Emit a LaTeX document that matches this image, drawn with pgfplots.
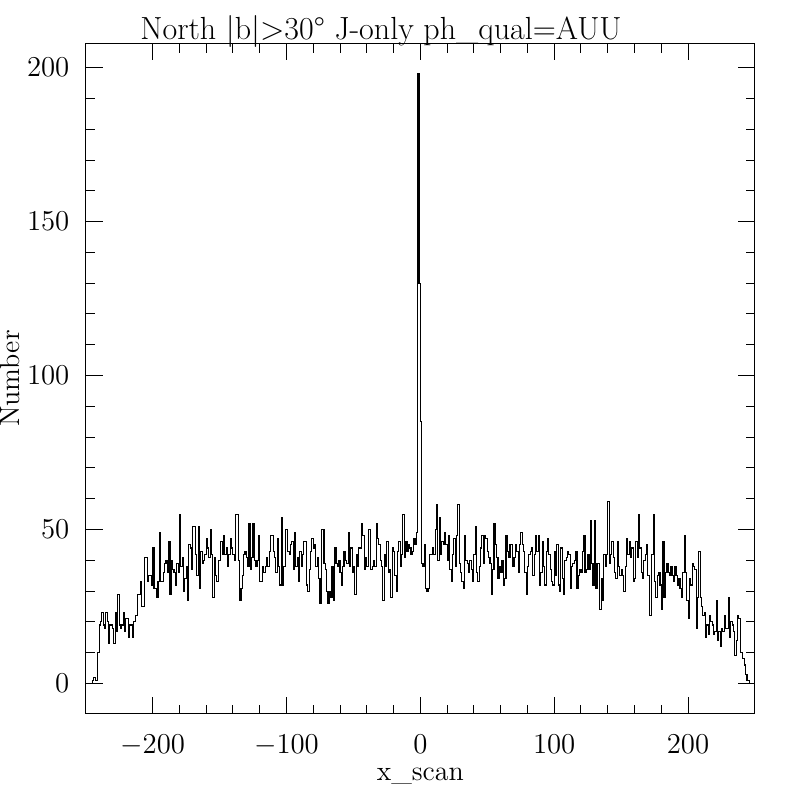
\documentclass[border=0pt]{standalone}
\usepackage{fontspec}
\usepackage{pgfplots}
\pgfplotsset{compat=1.18}
\begin{document}
\begin{tikzpicture}
\begin{axis}[
  name=ax, at={(0,0)}, anchor=south west,
  width=334.65pt, height=335.35pt, scale only axis,
  xmin=-250, xmax=250, ymin=-9.9, ymax=207.9,
  xtick={-200,-100,0,100,200}, ytick={0,50,100,150,200},
  minor x tick num=4, minor y tick num=4,
  tick align=inside, xtick pos=both, ytick pos=both,
  xticklabel pos=lower, yticklabel pos=left,
  major tick length=8.5pt, minor tick length=4.6pt,
  every tick/.style={black, line width=0.5pt},
  axis line style={line width=0.5pt},
  tick label style={font=\fontsize{14}{16}\selectfont},
  yticklabel style={inner sep=0pt, xshift=-8pt},
  xticklabel style={inner sep=0pt, yshift=-10.5pt, anchor=north},
]
\addplot[const plot, black, line width=0.55pt] coordinates {
(-250,0)(-249,0)(-248,0)(-247,0)(-246,0)(-245,1)(-244,2)(-243,1)(-242,1)(-241,10)
(-240,19)(-239,20)(-238,23)(-237,19)(-236,18)(-235,23)(-234,20)(-233,13)(-232,19)(-231,19)
(-230,18)(-229,13)(-228,23)(-227,17)(-226,29)(-225,19)(-224,18)(-223,19)(-222,23)(-221,17)
(-220,21)(-219,21)(-218,15)(-217,19)(-216,19)(-215,15)(-214,20)(-213,22)(-212,22)(-211,29)
(-210,29)(-209,33)(-208,25)(-207,25)(-206,41)(-205,41)(-204,33)(-203,35)(-202,35)(-201,32)
(-200,44)(-199,31)(-198,31)(-197,28)(-196,33)(-195,49)(-194,33)(-193,33)(-192,36)(-191,39)
(-190,40)(-189,36)(-188,46)(-187,29)(-186,40)(-185,37)(-184,36)(-183,32)(-182,39)(-181,36)
(-180,55)(-179,38)(-178,41)(-177,30)(-176,34)(-175,38)(-174,27)(-173,45)(-172,44)(-171,37)
(-170,51)(-169,51)(-168,42)(-167,35)(-166,51)(-165,31)(-164,43)(-163,39)(-162,40)(-161,42)
(-160,47)(-159,44)(-158,41)(-157,50)(-156,42)(-155,28)(-154,41)(-153,35)(-152,33)(-151,40)
(-150,40)(-149,46)(-148,42)(-147,48)(-146,42)(-145,44)(-144,38)(-143,42)(-142,47)(-141,44)
(-140,42)(-139,40)(-138,55)(-137,55)(-136,40)(-135,27)(-134,31)(-133,35)(-132,42)(-131,43)
(-130,41)(-129,38)(-128,52)(-127,37)(-126,41)(-125,52)(-124,40)(-123,38)
(-122,40)(-121,48)(-120,33)(-119,33)(-118,38)(-117,36)(-116,38)(-115,41)(-114,38)
(-113,43)(-112,48)(-111,48)(-110,43)(-109,41)(-108,36)(-107,47)(-106,38)(-105,32)(-104,54)
(-103,32)(-102,38)(-101,50)(-100,50)(-99,43)(-98,42)(-97,45)(-96,46)(-95,37)(-94,49)
(-93,38)(-92,41)(-91,33)(-90,43)(-89,38)(-88,42)(-87,46)(-86,46)(-85,32)(-84,30)
(-83,37)(-82,43)(-81,47)(-80,44)(-79,45)(-78,38)(-77,41)(-76,34)(-75,26)(-74,50)
(-73,50)(-72,39)(-71,37)(-70,30)(-69,26)(-68,30)(-67,28)(-66,38)(-65,27)(-64,44)
(-63,39)(-62,38)(-61,40)(-60,36)(-59,32)(-58,38)(-57,43)(-56,40)(-55,39)(-54,49)
(-53,38)(-52,44)(-51,36)(-50,38)(-49,29)(-48,42)(-47,38)(-46,44)(-45,44)(-44,52)
(-43,48)(-42,37)(-41,41)(-40,38)(-39,50)(-38,50)(-37,37)(-36,38)(-35,40)(-34,38)
(-33,52)(-32,47)(-31,45)(-30,40)(-29,38)(-28,27)(-27,42)(-26,38)(-25,46)(-24,36)
(-23,37)(-22,28)(-21,44)(-20,43)(-19,35)(-18,30)(-17,43)(-16,46)(-15,38)(-14,42)
(-13,55)(-12,41)(-11,46)(-10,43)(-9,45)(-8,44)(-7,42)(-6,43)(-5,47)(-4,45)
(-3,49)
(-2,198)(-1,130)(0,85)
(1,39)(2,38)(3,45)(4,31)(5,30)(6,31)(7,42)(8,42)(9,44)(10,42)
(11,50)(12,58)(13,40)(14,54)(15,42)(16,46)(17,45)(18,49)(19,45)
(20,40)(21,48)(22,37)(23,33)(24,42)(25,47)(26,38)(27,48)(28,58)
(29,39)(30,36)(31,33)(32,31)(33,48)(34,40)(35,39)(36,36)(37,40)
(38,37)(39,33)(40,42)(41,51)(42,36)(43,33)(44,38)(45,44)(46,48)(47,39)
(48,48)(49,47)(50,43)(51,41)(52,39)(53,29)(54,37)(55,52)(56,45)(57,41)
(58,34)(59,38)(60,36)(61,40)(62,32)(63,34)(64,48)(65,43)(66,41)(67,45)
(68,45)(69,38)(70,41)(71,45)(72,43)(73,36)(74,45)(75,49)(76,45)
(77,43)(78,36)(79,29)(80,38)(81,42)(82,43)(83,44)(84,35)(85,42)
(86,48)(87,43)(88,48)(89,32)(90,36)(91,46)(92,38)(93,32)(94,43)(95,47)
(96,42)(97,37)(98,33)(99,32)(100,43)(101,35)(102,45)(103,32)(104,30)
(105,44)(106,34)(107,29)(108,40)(109,41)(110,43)(111,42)(112,31)(113,38)
(114,39)(115,40)(116,43)(117,31)(118,35)(119,37)(120,36)(121,43)(122,48)
(123,36)(124,37)
(125,42)(126,37)(127,53)(128,39)(129,32)(130,53)(131,31)(132,39)(133,39)(134,24)
(135,34)(136,27)(137,42)(138,38)(139,42)(140,59)(141,39)(142,42)
(143,46)(144,41)(145,36)(146,34)(147,46)(148,38)(149,35)(150,37)(151,35)
(152,30)(153,38)(154,47)(155,42)(156,46)(157,41)(158,44)(159,33)
(160,34)(161,46)(162,41)(163,55)(164,44)(165,36)(166,34)
(167,40)(168,42)(169,45)(170,35)(171,22)(172,22)(173,42)(174,55)(175,33)(176,28)
(177,35)(178,36)(179,32)(180,24)(181,46)(182,28)(183,36)(184,39)(185,36)
(186,35)(187,38)(188,35)(189,33)(190,38)(191,35)(192,32)
(193,34)(194,31)(195,28)(196,36)(197,48)(198,36)(199,27)(200,21)
(201,34)(202,32)(203,39)(204,38)(205,37)(206,18)(207,28)(208,43)(209,28)(210,25)
(211,22)(212,23)(213,15)(214,19)(215,16)(216,22)(217,20)
(218,19)(219,16)(220,17)(221,27)(222,14)(223,17)(224,12)(225,18)
(226,17)(227,22)(228,18)(229,18)(230,28)(231,15)(232,20)(233,19)(234,17)
(235,9)(236,14)(237,22)(238,21)(239,10)(240,10)(241,8)(242,6)(243,3)(244,1)
(245,1)(246,0)(247,0)(248,0)(249,0)(250,0)
};
\end{axis}
\node[anchor=base west, inner sep=0pt, font=\fontsize{16}{19}\selectfont] at (27.15pt,337.1pt) {North |b|>30° J-only ph\_qual=AUU};
\node[anchor=base, inner sep=0pt, font=\fontsize{14}{16}\selectfont] at (167.3pt,-33.5pt) {x\_scan};
\node[anchor=base, rotate=90, inner sep=0pt, font=\fontsize{14}{16}\selectfont] at (-32.85pt,167.7pt) {Number};
\pgfresetboundingbox
\path (-42.85pt,-43pt) rectangle (357.15pt,357pt);
\end{tikzpicture}
\end{document}
